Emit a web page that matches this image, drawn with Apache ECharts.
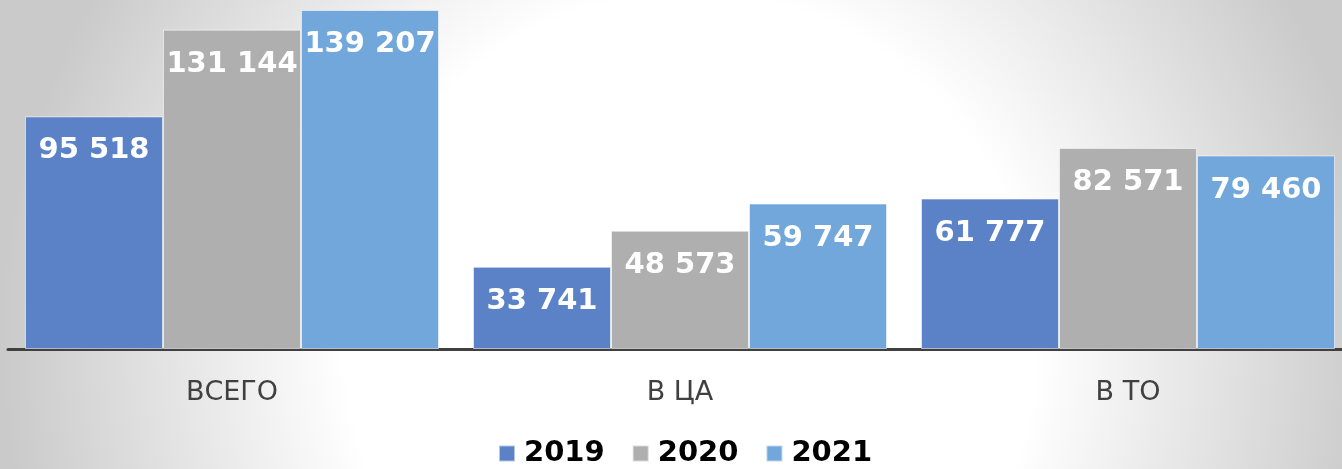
<!DOCTYPE html>
<html>
<head>
<meta charset="utf-8">
<script src="https://cdn.jsdelivr.net/npm/echarts@6/dist/echarts.min.js"></script>
<style>
  html, body { margin: 0; padding: 0; }
  #chart { width: 1342px; height: 469px; }
</style>
</head>
<body>
<div id="chart"></div>
<script>
// данные
const categories = ["ВСЕГО", "В ЦА", "В ТО"];
const years = ["2019", "2020", "2021"];
const values2019 = [95518, 33741, 61777];
const values2020 = [131144, 48573, 82571];
const values2021 = [139207, 59747, 79460];

const colors = ["#5b82c7", "#afafaf", "#71a7da"];

const fmt = (v) => String(v).replace(/\B(?=(\d{3})+(?!\d))/g, " ");

const makeSeries = (name, data, i) => ({
  name: name,
  type: "bar",
  data: data,
  barWidth: 138,
  barGap: "0%",
  itemStyle: {
    color: colors[i],
    borderColor: "rgba(255,255,255,0.55)",
    borderWidth: 1,
  },
  label: {
    show: true,
    position: "insideTop",
    distance: 20,
    color: "#ffffff",
    fontFamily: "DejaVu Sans",
    fontWeight: "bold",
    fontSize: 29,
    formatter: (p) => fmt(p.value),
  },
});

const myChart = echarts.init(document.getElementById("chart"));
const option = {
  backgroundColor: {
    type: "radial",
    x: 690,
    y: 340,
    r: 690,
    global: true,
    colorStops: [
      { offset: 0, color: "#ffffff" },
      { offset: 0.5, color: "#ffffff" },
      { offset: 1, color: "#cacaca" },
    ],
  },
  animation: false,
  grid: {
    left: 8,
    width: 1344,
    top: 10,
    bottom: 120,
    containLabel: false,
    outerBoundsMode: "none",
  },
  legend: {
    data: years,
    left: 470,
    top: 427,
    padding: [12, 18, 12, 28],
    backgroundColor: "rgba(255,255,255,0.5)",
    icon: "rect",
    itemWidth: 16,
    itemHeight: 16,
    itemGap: 27,
    textStyle: {
      color: "#000000",
      fontFamily: "DejaVu Sans",
      fontWeight: "bold",
      fontSize: 29,
      padding: [0, 0, 0, 4],
    },
  },
  xAxis: {
    type: "category",
    data: categories,
    axisLine: { lineStyle: { color: "#404040", width: 3 } },
    axisTick: { show: false },
    axisLabel: {
      color: "#404040",
      fontFamily: "DejaVu Sans",
      fontSize: 27,
      margin: 30,
    },
  },
  yAxis: {
    type: "value",
    min: 0,
    max: "dataMax",
    show: false,
    splitLine: { show: false },
  },
  series: [
    makeSeries(years[0], values2019, 0),
    makeSeries(years[1], values2020, 1),
    makeSeries(years[2], values2021, 2),
  ],
};
myChart.setOption(option);
</script>
</body>
</html>
